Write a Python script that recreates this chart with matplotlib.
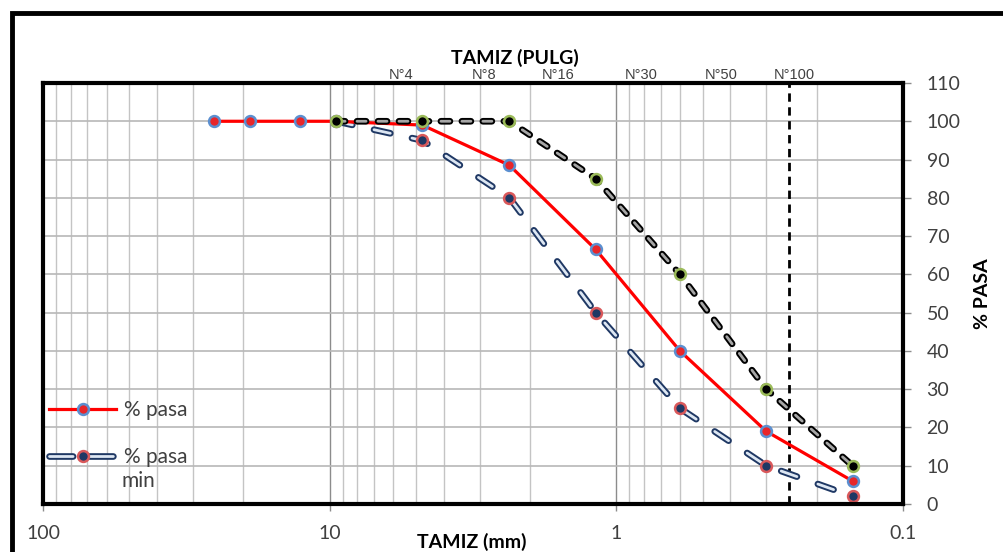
import matplotlib
matplotlib.use("Agg")
import matplotlib.pyplot as plt
import matplotlib.patheffects as pe
from matplotlib.patches import Rectangle
from matplotlib.lines import Line2D
from matplotlib.legend_handler import HandlerTuple
from matplotlib.ticker import FixedLocator, NullFormatter, NullLocator

plt.rcParams['font.family'] = ['Lato', 'DejaVu Sans']
plt.rcParams['lines.scale_dashes'] = False

# Sieve openings (mm) and percent passing
sieve_mm = [25.4, 19.0, 12.7, 9.5, 4.75, 2.36, 1.18, 0.6, 0.3, 0.15]
pasa = [100, 100, 100, 100, 99, 88.5, 66.5, 40, 19, 6]

spec_mm = [9.5, 4.75, 2.36, 1.18, 0.6, 0.3, 0.15]
pasa_min = [100, 95, 80, 50, 25, 10, 2]
pasa_max = [100, 100, 100, 85, 60, 30, 10]

# Top sieve-number labels
top_tick_mm = [5.65, 2.90, 1.60, 0.818, 0.43, 0.239]
top_tick_labels = ['N°4', 'N°8', 'N°16', 'N°30', 'N°50', 'N°100']

x_ticks = [100, 10, 1, 0.1]
x_tick_labels = ['100', '10', '1', '0.1']
y_ticks = list(range(0, 111, 10))
ref_line_mm = 0.25

W, H = 1004, 552
fig = plt.figure(figsize=(W / 100, H / 100), dpi=100)
fig.patch.set_facecolor('white')

# outer frame
fig.patches.append(Rectangle((12 / W, -0.1), 1.2, (H - 13) / H + 0.1,
                             transform=fig.transFigure, fill=False,
                             edgecolor='black', linewidth=3.5, zorder=0))

ax = fig.add_axes([43 / W, 1 - 504 / H, (903 - 43) / W, (504 - 83) / H])
ax.set_xscale('log')
ax.set_xlim(100, 0.1)
ax.set_ylim(0, 110)

# grid
minor_pos = [m * 10 ** e for e in (-1, 0, 1) for m in range(2, 10)]
for v in minor_pos:
    ax.axvline(v, color='#c4c4c4', lw=1.0, zorder=0)
for v in (10, 1):
    ax.axvline(v, color='#8c8c8c', lw=1.0, zorder=0)
for v in y_ticks[1:]:
    ax.axhline(v, color='#b8b8b8', lw=1.2, zorder=0)

ax.axvline(ref_line_mm, color='black', lw=2, ls=(0, (6, 4)), zorder=1)

MS, MEW = 7.8, 1.8

# passing curve
red_line, = ax.plot(sieve_mm, pasa, color='#ff0000', lw=2.3, marker='o', ms=MS,
                    mfc='#e8262a', mec='#5b8fd0', mew=MEW, zorder=3)

# lower limit: outlined dashes, markers drawn separately
min_line, = ax.plot(spec_mm, pasa_min, color='#dde7f3', lw=2.0,
                    dashes=(12, 16), dash_capstyle='round', zorder=2)
min_line.set_path_effects([pe.Stroke(linewidth=4.8, foreground='#1f3864'), pe.Normal()])
ax.plot(spec_mm, pasa_min, ls='none', marker='o', ms=MS,
        mfc='#1f3864', mec='#d9585a', mew=MEW, zorder=2.5)

# upper limit: outlined dashes, markers drawn separately
max_line, = ax.plot(spec_mm, pasa_max, color='#a6a6a6', lw=2.0,
                    dashes=(6.5, 8.6), dash_capstyle='round', zorder=4)
max_line.set_path_effects([pe.Stroke(linewidth=4.8, foreground='black'), pe.Normal()])
ax.plot(spec_mm, pasa_max, ls='none', marker='o', ms=MS,
        mfc='black', mec='#9bbb59', mew=MEW, zorder=4.5)

# axes styling
for s in ax.spines.values():
    s.set_linewidth(3)
    s.set_color('black')

ax.yaxis.tick_right()
ax.set_yticks(y_ticks)
ax.tick_params(axis='y', which='both', direction='out', length=6, width=1,
               color='#8c8c8c', labelsize=14, labelcolor='#404040', pad=11)
ax.xaxis.set_major_locator(FixedLocator(x_ticks))
ax.xaxis.set_minor_locator(NullLocator())
ax.set_xticklabels(x_tick_labels)
ax.tick_params(axis='x', which='major', direction='out', length=5, width=1,
               color='#8c8c8c', labelsize=14, labelcolor='#404040', pad=10)

# top axis with sieve numbers
axt = ax.twiny()
axt.set_xscale('log')
axt.set_xlim(ax.get_xlim())
axt.xaxis.set_major_locator(FixedLocator(top_tick_mm))
axt.xaxis.set_minor_locator(NullLocator())
axt.xaxis.set_minor_formatter(NullFormatter())
axt.set_xticklabels(top_tick_labels, fontfamily='Liberation Sans')
axt.tick_params(axis='x', which='major', length=0, labelsize=10.5,
                labelcolor='#404040', pad=1)
for s in axt.spines.values():
    s.set_visible(False)

# axis titles
fig.text(515 / W, 1 - 58 / H, 'TAMIZ (PULG)', fontsize=14, fontweight='bold',
         ha='center', va='center')
fig.text(472 / W, 1 - 542 / H, 'TAMIZ (mm)', fontsize=14, fontweight='bold',
         ha='center', va='center')
fig.text(983 / W, 1 - 294 / H, '% PASA', fontsize=14, fontweight='bold',
         rotation=90, ha='center', va='center')

# legend
h_red = Line2D([], [], color='#ff0000', lw=2.3, marker='o', ms=MS,
               mfc='#e8262a', mec='#5b8fd0', mew=MEW)
h_min_line = Line2D([], [], color='#dde7f3', lw=2.0, dashes=(17, 12),
                    dash_capstyle='round')
h_min_line.set_path_effects([pe.Stroke(linewidth=4.8, foreground='#1f3864'), pe.Normal()])
h_min_pt = Line2D([], [], ls='none', marker='o', ms=MS,
                  mfc='#1f3864', mec='#d9585a', mew=MEW)
leg = ax.legend([h_red, (h_min_line, h_min_pt)], ['% pasa', '% pasa'],
                handler_map={tuple: HandlerTuple(ndivide=1)},
                loc='upper left', bbox_to_anchor=(0.0, 0.262), frameon=False,
                fontsize=15, handlelength=3.2, labelspacing=1.3,
                handletextpad=0.4, borderaxespad=0.0, borderpad=0.3)
for t in leg.get_texts():
    t.set_color('#404040')
# second line of the lower-limit label
fig.text(122 / W, 1 - 481 / H, 'min', fontsize=15, color='#404040',
         ha='left', va='center')

fig.savefig('out.png', dpi=100, facecolor='white')
